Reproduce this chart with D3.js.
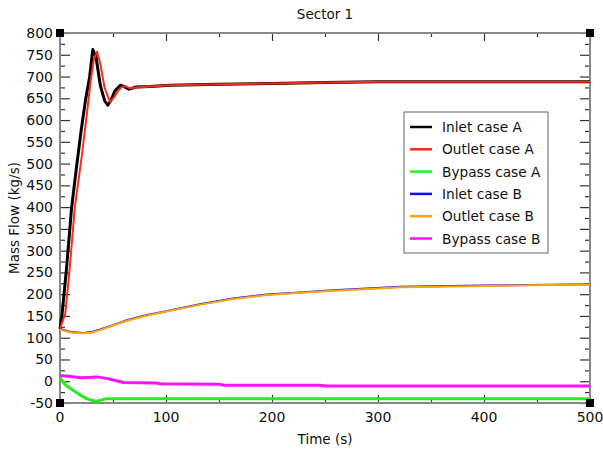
<!DOCTYPE html>
<html>
<head>
    <meta charset="utf-8">
    <script src="https://cdn.jsdelivr.net/npm/d3@7"></script>
    <style>
        body { margin: 0; background: #fff; }
        text { font-family: "DejaVu Sans", sans-serif; fill: #111; }
    </style>
</head>
<body>
<div id="graph"></div>
<script>

// values
const inletA_t = [0, 2, 6, 11, 16, 20, 24, 28, 31, 34, 38, 42, 45, 48, 52, 57, 61, 65, 72, 85, 104, 150, 200, 250, 300, 400, 500];
const inletA_v = [120, 155, 255, 400, 500, 577, 645, 700, 762, 745, 680, 645, 634, 645, 668, 680, 676, 671, 676, 677, 680, 682, 684, 686, 688, 688, 688];

const outletA_t = [0, 5, 9, 14, 20, 25, 29, 32, 35, 38, 42, 47, 51, 55, 58, 62, 66, 72, 85, 104, 150, 200, 250, 300, 400, 500];
const outletA_v = [120, 156, 255, 400, 507, 607, 691, 740, 757, 730, 675, 642, 652, 668, 676, 678, 673, 675, 677, 680, 682, 684, 686, 688, 688, 688];

const bypassA_t = [0, 5, 13, 20, 25, 33, 38, 44, 52, 500];
const bypassA_v = [8, -8, -22, -33, -40, -46, -44, -40, -40, -40];

const inletB_t = [0, 10, 22, 30, 38, 50, 63, 80, 100, 132, 163, 195, 226, 258, 289, 321, 400, 500];
const inletB_v = [120, 113, 111, 113, 119, 129, 140, 151, 161, 177, 190, 199, 204, 209, 213, 217, 220, 223];

const outletB_t = [0, 10, 22, 30, 38, 50, 63, 80, 100, 132, 163, 195, 226, 258, 289, 321, 400, 500];
const outletB_v = [119, 112, 110, 112, 118, 128, 139, 150, 160, 176, 189, 198, 203, 208, 212, 216, 219, 222];

const bypassB_t = [0, 10, 20, 30, 35, 45, 55, 60, 90, 95, 150, 155, 245, 250, 500];
const bypassB_v = [13, 11, 8, 9, 10, 6, 0, -3, -4, -6, -7, -9, -9, -11, -11];

const seriesNames = ["Inlet case A", "Outlet case A", "Bypass case A", "Inlet case B", "Outlet case B", "Bypass case B"];
const seriesColors = ["#000000", "#ff2a1a", "#22ee22", "#1010ff", "#ffa500", "#ff10ff"];
const seriesWidths = [3, 2, 3, 2, 2, 3];

const xTicks = [0, 100, 200, 300, 400, 500];
const yTicks = d3.range(-50, 801, 50);

const margin = {top: 33, right: 13, bottom: 47, left: 60},
    width = 603 - margin.left - margin.right,
    height = 450 - margin.top - margin.bottom;

const root = d3.select("#graph")
  .append("svg")
    .attr("width", 603)
    .attr("height", 450);

const svg = root.append("g")
    .attr("transform", `translate(${margin.left},${margin.top})`);

const x = d3.scaleLinear().domain([0, 500]).range([0, width]);
const y = d3.scaleLinear().domain([-50, 800]).range([height, 0]);

// title and axis labels
root.append("text")
    .attr("x", margin.left + width / 2)
    .attr("y", 19)
    .attr("text-anchor", "middle")
    .style("font-size", "13.5px")
    .text("Sector 1");

root.append("text")
    .attr("x", margin.left + width / 2)
    .attr("y", 444)
    .attr("text-anchor", "middle")
    .style("font-size", "13.5px")
    .text("Time (s)");

root.append("text")
    .attr("transform", `translate(19,${margin.top + height / 2}) rotate(-90)`)
    .attr("text-anchor", "middle")
    .style("font-size", "13.5px")
    .text("Mass Flow (kg/s)");

// tick labels
svg.selectAll(".xlab")
  .data(xTicks)
  .join("text")
    .attr("x", d => x(d))
    .attr("y", height + 19)
    .attr("text-anchor", "middle")
    .style("font-size", "14px")
    .text(d => d);

svg.selectAll(".ylab")
  .data(yTicks)
  .join("text")
    .attr("x", -7)
    .attr("y", d => y(d) + 5)
    .attr("text-anchor", "end")
    .style("font-size", "14px")
    .text(d => d);

// inner ticks on all four sides
const minorY = d3.range(-25, 800, 50);
const minorX = d3.range(50, 500, 100);
const tickColor = "#333";

svg.append("g").call(d3.axisRight(y).tickValues(yTicks).tickSize(10).tickFormat(""))
    .call(g => g.select(".domain").remove());
svg.append("g").call(d3.axisRight(y).tickValues(minorY).tickSize(5).tickFormat(""))
    .call(g => g.select(".domain").remove());
svg.append("g").attr("transform", `translate(${width},0)`)
    .call(d3.axisLeft(y).tickValues(yTicks).tickSize(10).tickFormat(""))
    .call(g => g.select(".domain").remove());
svg.append("g").attr("transform", `translate(${width},0)`)
    .call(d3.axisLeft(y).tickValues(minorY).tickSize(5).tickFormat(""))
    .call(g => g.select(".domain").remove());
svg.append("g").attr("transform", `translate(0,${height})`)
    .call(d3.axisTop(x).tickValues(xTicks).tickSize(8).tickFormat(""))
    .call(g => g.select(".domain").remove());
svg.append("g").attr("transform", `translate(0,${height})`)
    .call(d3.axisTop(x).tickValues(minorX).tickSize(4).tickFormat(""))
    .call(g => g.select(".domain").remove());
svg.append("g")
    .call(d3.axisBottom(x).tickValues(xTicks).tickSize(8).tickFormat(""))
    .call(g => g.select(".domain").remove());
svg.append("g")
    .call(d3.axisBottom(x).tickValues(minorX).tickSize(4).tickFormat(""))
    .call(g => g.select(".domain").remove());
svg.selectAll(".tick line").attr("stroke", tickColor).attr("stroke-width", 1.2);

// frame
svg.append("rect")
    .attr("x", 0).attr("y", 0)
    .attr("width", width).attr("height", height)
    .attr("fill", "none")
    .attr("stroke", "#888")
    .attr("stroke-width", 2);

// the lines
const allT = [inletA_t, outletA_t, bypassA_t, inletB_t, outletB_t, bypassB_t];
const allV = [inletA_v, outletA_v, bypassA_v, inletB_v, outletB_v, bypassB_v];

const line = d3.line()
    .x(d => x(d[0]))
    .y(d => y(d[1]));

for (let i = 0; i < allT.length; i++) {
    let pts = allT[i].map((t, j) => [t, allV[i][j]]);
    svg.append("path")
      .datum(pts)
      .attr("fill", "none")
      .attr("stroke", seriesColors[i])
      .attr("stroke-width", seriesWidths[i])
      .attr("stroke-linejoin", "round")
      .attr("d", line);
}

// corner squares
const corners = [[0, 0], [width, 0], [0, height], [width, height]];
svg.selectAll(".corner")
  .data(corners)
  .join("rect")
    .attr("x", d => d[0] - 4)
    .attr("y", d => d[1] - 4)
    .attr("width", 8)
    .attr("height", 8)
    .attr("fill", "#000");

// legend
const legend = root.append("g").attr("transform", "translate(404,112)");
legend.append("rect")
    .attr("width", 144)
    .attr("height", 141)
    .attr("fill", "#fff")
    .attr("stroke", "#666")
    .attr("stroke-width", 1);

seriesNames.forEach((name, i) => {
    let ly = 15 + i * 22.3;
    legend.append("line")
        .attr("x1", 6).attr("x2", 28)
        .attr("y1", ly).attr("y2", ly)
        .attr("stroke", seriesColors[i])
        .attr("stroke-width", 2.5);
    legend.append("text")
        .attr("x", 38)
        .attr("y", ly + 5)
        .style("font-size", "13.7px")
        .text(name);
});

</script>
</body>
</html>
